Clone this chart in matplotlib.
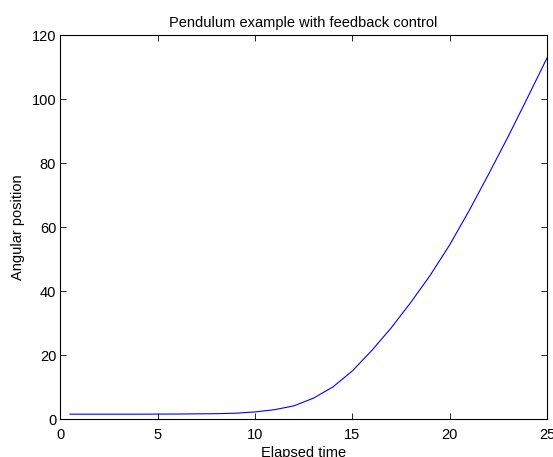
import matplotlib
matplotlib.use("Agg")
import matplotlib.pyplot as plt

# values
elapsed = [0.5, 2, 4, 6, 8, 9, 10, 11, 12, 13, 14, 15, 16, 17, 18, 19, 20, 21, 22, 23, 24, 25]
angle = [1.6, 1.6, 1.6, 1.65, 1.75, 1.9, 2.3, 3.0, 4.2, 6.6, 10.1, 15.1, 21.5, 28.6, 36.5, 45.0, 54.5, 65.2, 76.6, 88.3, 100.5, 112.9]
xticks = [0, 5, 10, 15, 20, 25]
yticks = [0, 20, 40, 60, 80, 100, 120]

plt.rcParams['font.family'] = ['Liberation Sans', 'DejaVu Sans']
plt.rcParams['font.size'] = 10.5

fig = plt.figure(figsize=(5.53, 4.57), dpi=100)
ax = fig.add_axes([60.3 / 553, 1 - 419.3 / 457, (547 - 60.3) / 553, (419.3 - 35.3) / 457])

ax.plot(elapsed, angle, color='blue', linewidth=0.8)

ax.set_xlim(0, 25)
ax.set_ylim(0, 120)
ax.set_xticks(xticks)
ax.set_yticks(yticks)
ax.tick_params(direction='in', top=True, right=True, length=4, width=0.6)
ax.tick_params(axis='x', pad=6)
ax.tick_params(axis='y', pad=3)
for s in ax.spines.values():
    s.set_linewidth(0.8)

ax.set_title('Pendulum example with feedback control', fontsize=10.5, pad=6)
ax.set_xlabel('Elapsed time', labelpad=3)
ax.set_ylabel('Angular position', labelpad=5)

fig.savefig('out.png', dpi=100)
